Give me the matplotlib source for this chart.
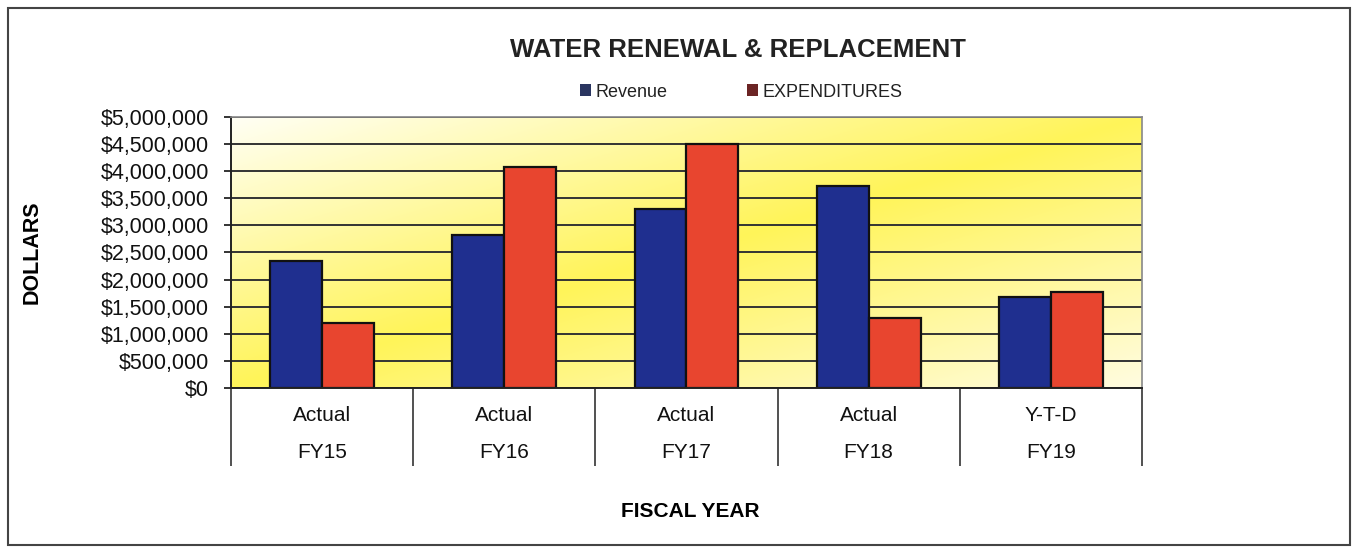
import numpy as np
import matplotlib
matplotlib.use("Agg")
import matplotlib.pyplot as plt
from matplotlib.patches import Patch, Rectangle
from matplotlib.colors import LinearSegmentedColormap

# chart data
status = ["Actual", "Actual", "Actual", "Actual", "Y-T-D"]
years = ["FY15", "FY16", "FY17", "FY18", "FY19"]
revenue = [2340000, 2830000, 3300000, 3730000, 1670000]
expenditures = [1200000, 4080000, 4500000, 1300000, 1780000]

plt.rcParams["font.family"] = ["Liberation Sans", "DejaVu Sans"]

fig = plt.figure(figsize=(13.59, 5.47), dpi=100)
ax = fig.add_axes([0.170, 0.2907, 0.6703, 0.4954])

# diagonal yellow gradient behind the plot area
n = 200
xx, yy = np.meshgrid(np.linspace(0, 1, n), np.linspace(1, 0, n))
t = (xx + (1 - yy)) / 2
cmap = LinearSegmentedColormap.from_list(
    "bg", ["#fffff4", "#fff459", "#fffce0"])
ax.imshow(t, cmap=cmap, extent=[0, 1, 0, 1], transform=ax.transAxes,
          aspect="auto", zorder=0.1, interpolation="bilinear")

x = np.arange(len(years))
w = 0.285
ax.bar(x - w / 2, revenue, w, color="#1f2f8f", edgecolor="#111111",
       linewidth=1.6, zorder=2)
ax.bar(x + w / 2, expenditures, w, color="#e8452f", edgecolor="#111111",
       linewidth=1.6, zorder=2)

ax.set_xlim(-0.5, len(years) - 0.5)
ax.set_ylim(0, 5000000)
ax.set_yticks(np.arange(0, 5000001, 500000))
ax.set_yticklabels(["${:,.0f}".format(v) for v in np.arange(0, 5000001, 500000)])
ax.yaxis.grid(True, color="#333333", linewidth=1.4)
ax.set_axisbelow(True)

# category labels and separators
ax.set_xticks(x)
ax.set_xticklabels([s + "\n" + y for s, y in zip(status, years)],
                   linespacing=2.2)
ax.set_xticks(np.arange(-0.5, len(years)), minor=True)
ax.tick_params(axis="x", which="major", length=0, pad=13, labelsize=15,
               colors="#111111")
ax.tick_params(axis="x", which="minor", length=56, width=1.2, color="#333333")
ax.tick_params(axis="y", length=5, width=1.2, pad=11, labelsize=15.5,
               colors="#111111")

for side in ["top", "right"]:
    ax.spines[side].set_color("#888888")
    ax.spines[side].set_linewidth(1.2)
for side in ["left", "bottom"]:
    ax.spines[side].set_color("#222222")
    ax.spines[side].set_linewidth(1.4)

ax.set_ylabel("DOLLARS", fontsize=15.5, fontweight="bold")
ax.yaxis.set_label_coords(-0.207, 0.5)
ax.set_xlabel("FISCAL YEAR", fontsize=15, fontweight="bold")
ax.xaxis.set_label_coords(0.504, -0.42)

fig.text(0.543, 0.908, "WATER RENEWAL & REPLACEMENT", ha="center",
         va="center", fontsize=18.5, fontweight="bold", color="#222222")

handles = [Patch(facecolor="#2a3560", edgecolor="none", label="Revenue"),
           Patch(facecolor="#6b2424", edgecolor="none", label="EXPENDITURES")]
ax.legend(handles=handles, loc="center", bbox_to_anchor=(0.56, 1.092),
          ncol=2, frameon=False, fontsize=13, handlelength=0.6,
          handleheight=0.6, handletextpad=0.25, columnspacing=4.4,
          labelcolor="#222222")

# outer chart border
fig.patches.append(Rectangle((8 / 1359, 0.004), 1342 / 1359, 0.981,
                             transform=fig.transFigure, fill=False,
                             edgecolor="#444444", linewidth=1.5))

fig.savefig("out.png", dpi=100)
